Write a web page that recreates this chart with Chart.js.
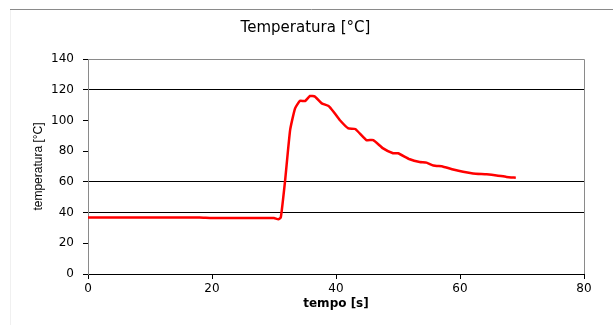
<!DOCTYPE html>
<html>
<head>
<meta charset="utf-8">
<script src="https://cdn.jsdelivr.net/npm/chart.js@4.4.0/dist/chart.umd.min.js"></script>
<style>
  html, body { margin: 0; padding: 0; background: #fff; }
  #wrap { width: 613px; height: 325px; }
</style>
</head>
<body>
<div id="wrap"><canvas id="tempChart" width="613" height="325"></canvas></div>
<script>
// tempo [s]
const tempo = [0, 5, 10, 15, 18, 20, 25, 28, 30, 30.7, 31.1, 31.8, 32.6, 33.4, 34.2, 35.0, 35.8, 36.6,
  37.7, 38.8, 39.6, 40.6, 42.0, 43.1, 44.9, 46.0, 47.6, 49.2, 50.0, 51.9, 53.5, 54.6, 55.7,
  57.3, 58.9, 60.5, 62.1, 64.3, 65.9, 67.5, 69.0];
// temperatura [°C]
const temperatura = [36.8, 36.8, 36.8, 36.8, 36.8, 36.5, 36.4, 36.5, 36.5, 35.6, 36.9, 61.2, 93.7, 107.9, 112.8, 112.6, 115.9, 115.5,
  111.1, 109.4, 105.7, 100.3, 94.8, 94.4, 87.2, 87.2, 81.8, 78.6, 78.6, 74.7, 72.9, 72.5, 70.7,
  69.9, 68.1, 66.6, 65.5, 64.9, 64.2, 63.2, 62.7];
const yLinee = [0, 40, 60, 120];   // linee orizzontali visibili

const punti = tempo.map((t, i) => ({ x: t, y: temperatura[i] }));

// cornice esterna + bordo grigio in alto e a destra dell'area del grafico
const cornice = {
  id: 'cornice',
  afterDraw(chart) {
    const c = chart.ctx;
    const a = chart.chartArea;
    c.save();
    c.strokeStyle = '#8a8a8a';
    c.lineWidth = 1;
    c.beginPath();
    c.moveTo(10, 9.5); c.lineTo(613, 9.5);
    c.moveTo(a.left, a.top + 0.5); c.lineTo(a.right + 0.5, a.top + 0.5);
    c.lineTo(a.right + 0.5, a.bottom);
    c.stroke();
    c.strokeStyle = '#f0f0f0';
    c.beginPath();
    c.moveTo(10.5, 10); c.lineTo(10.5, 325);
    c.stroke();
    c.restore();
  }
};

const fontTick = { family: 'DejaVu Sans, sans-serif', size: 12 };

new Chart(document.getElementById('tempChart'), {
  type: 'line',
  data: {
    datasets: [{
      data: punti,
      borderColor: '#ff0000',
      borderWidth: 2.5,
      pointRadius: 0,
      tension: 0.15,
      fill: false
    }]
  },
  options: {
    responsive: false,
    animation: false,
    layout: { padding: { left: 27, right: 29, top: 0, bottom: 10 } },
    plugins: {
      legend: { display: false },
      tooltip: { enabled: false },
      title: {
        display: true,
        text: 'Temperatura [°C]',
        color: '#000',
        font: { family: 'DejaVu Sans, sans-serif', size: 15, weight: 'normal' },
        padding: { top: 19, bottom: 22 }
      }
    },
    scales: {
      x: {
        type: 'linear',
        min: 0,
        max: 80,
        ticks: { stepSize: 20, color: '#000', font: fontTick, padding: 3 },
        grid: { drawOnChartArea: false, tickLength: 5, color: '#000' },
        border: { color: '#000', width: 1 },
        title: {
          display: true,
          text: 'tempo [s]',
          color: '#000',
          font: { family: 'DejaVu Sans, sans-serif', size: 12, weight: 'bold' },
          padding: { top: 4, bottom: 4 }
        },
        afterFit(scale) { scale.height = 41; }
      },
      y: {
        min: 0,
        max: 140,
        ticks: { stepSize: 20, color: '#000', font: fontTick, padding: 9 },
        grid: {
          tickLength: 5,
          tickColor: '#000',
          color(ctx) { return yLinee.includes(ctx.tick.value) ? '#000' : 'rgba(0,0,0,0)'; }
        },
        border: { color: '#8a8a8a', width: 1 },
        title: {
          display: true,
          text: 'temperatura [°C]',
          color: '#000',
          font: { family: 'Liberation Sans, Arial, sans-serif', size: 12, weight: 'normal' },
          padding: { top: 4, bottom: 4 }
        },
        afterFit(scale) { scale.width = 61; }
      }
    }
  },
  plugins: [cornice]
});
</script>
</body>
</html>
